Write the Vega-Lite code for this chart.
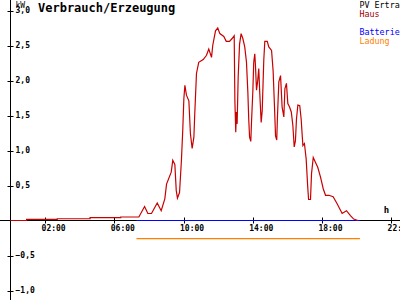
{
  "$schema": "https://vega.github.io/schema/vega-lite/v6.json",
  "width": 400,
  "height": 300,
  "autosize": "none",
  "padding": 0,
  "background": "white",
  "config": {"view": {"stroke": null}},
  "title": {
    "text": "Verbrauch/Erzeugung",
    "anchor": "start",
    "frame": "group",
    "font": "DejaVu Sans Mono",
    "fontSize": 12,
    "fontWeight": "bold",
    "color": "black",
    "baseline": "top",
    "offset": 0,
    "dx": 38,
    "dy": 15
  },
  "data": {
    "values": [
      {"h": 7.28, "v": 0, "s": "Batterie"},
      {"h": 20.2, "v": 0, "s": "Batterie"},
      {"h": 7.28, "v": -0.26, "s": "Ladung"},
      {"h": 20.2, "v": -0.26, "s": "Ladung"},
      {"h": 0, "v": 0, "s": "Haus"},
      {"h": 0.93, "v": 0, "s": "Haus"},
      {"h": 0.93, "v": 0.015, "s": "Haus"},
      {"h": 2.7, "v": 0.015, "s": "Haus"},
      {"h": 2.7, "v": 0.025, "s": "Haus"},
      {"h": 4.6, "v": 0.025, "s": "Haus"},
      {"h": 4.6, "v": 0.04, "s": "Haus"},
      {"h": 6.37, "v": 0.04, "s": "Haus"},
      {"h": 6.37, "v": 0.05, "s": "Haus"},
      {"h": 7.42, "v": 0.05, "s": "Haus"},
      {"h": 7.75, "v": 0.2, "s": "Haus"},
      {"h": 7.94, "v": 0.1, "s": "Haus"},
      {"h": 8.15, "v": 0.1, "s": "Haus"},
      {"h": 8.48, "v": 0.25, "s": "Haus"},
      {"h": 8.71, "v": 0.14, "s": "Haus"},
      {"h": 8.92, "v": 0.31, "s": "Haus"},
      {"h": 9.02, "v": 0.52, "s": "Haus"},
      {"h": 9.29, "v": 0.69, "s": "Haus"},
      {"h": 9.38, "v": 0.86, "s": "Haus"},
      {"h": 9.5, "v": 0.8, "s": "Haus"},
      {"h": 9.58, "v": 0.43, "s": "Haus"},
      {"h": 9.65, "v": 0.32, "s": "Haus"},
      {"h": 9.77, "v": 0.4, "s": "Haus"},
      {"h": 9.88, "v": 0.86, "s": "Haus"},
      {"h": 9.96, "v": 1.31, "s": "Haus"},
      {"h": 10.02, "v": 1.74, "s": "Haus"},
      {"h": 10.08, "v": 1.93, "s": "Haus"},
      {"h": 10.17, "v": 1.79, "s": "Haus"},
      {"h": 10.31, "v": 1.71, "s": "Haus"},
      {"h": 10.4, "v": 1.24, "s": "Haus"},
      {"h": 10.5, "v": 1.03, "s": "Haus"},
      {"h": 10.6, "v": 1.19, "s": "Haus"},
      {"h": 10.65, "v": 1.52, "s": "Haus"},
      {"h": 10.75, "v": 2.1, "s": "Haus"},
      {"h": 10.88, "v": 2.26, "s": "Haus"},
      {"h": 11.14, "v": 2.3, "s": "Haus"},
      {"h": 11.33, "v": 2.36, "s": "Haus"},
      {"h": 11.46, "v": 2.45, "s": "Haus"},
      {"h": 11.62, "v": 2.33, "s": "Haus"},
      {"h": 11.69, "v": 2.5, "s": "Haus"},
      {"h": 11.85, "v": 2.71, "s": "Haus"},
      {"h": 11.98, "v": 2.75, "s": "Haus"},
      {"h": 12.1, "v": 2.67, "s": "Haus"},
      {"h": 12.33, "v": 2.63, "s": "Haus"},
      {"h": 12.47, "v": 2.56, "s": "Haus"},
      {"h": 12.66, "v": 2.56, "s": "Haus"},
      {"h": 12.81, "v": 2.6, "s": "Haus"},
      {"h": 12.93, "v": 2.64, "s": "Haus"},
      {"h": 12.97, "v": 1.71, "s": "Haus"},
      {"h": 13.02, "v": 1.26, "s": "Haus"},
      {"h": 13.06, "v": 1.55, "s": "Haus"},
      {"h": 13.1, "v": 1.38, "s": "Haus"},
      {"h": 13.16, "v": 2.05, "s": "Haus"},
      {"h": 13.24, "v": 2.52, "s": "Haus"},
      {"h": 13.33, "v": 2.67, "s": "Haus"},
      {"h": 13.43, "v": 2.6, "s": "Haus"},
      {"h": 13.54, "v": 2.48, "s": "Haus"},
      {"h": 13.64, "v": 2.26, "s": "Haus"},
      {"h": 13.72, "v": 1.83, "s": "Haus"},
      {"h": 13.77, "v": 1.45, "s": "Haus"},
      {"h": 13.82, "v": 1.19, "s": "Haus"},
      {"h": 13.89, "v": 1.13, "s": "Haus"},
      {"h": 13.93, "v": 1.4, "s": "Haus"},
      {"h": 14.01, "v": 1.86, "s": "Haus"},
      {"h": 14.06, "v": 2.26, "s": "Haus"},
      {"h": 14.12, "v": 2.38, "s": "Haus"},
      {"h": 14.16, "v": 2.21, "s": "Haus"},
      {"h": 14.22, "v": 1.86, "s": "Haus"},
      {"h": 14.29, "v": 2.0, "s": "Haus"},
      {"h": 14.35, "v": 2.17, "s": "Haus"},
      {"h": 14.41, "v": 1.81, "s": "Haus"},
      {"h": 14.49, "v": 1.4, "s": "Haus"},
      {"h": 14.55, "v": 1.57, "s": "Haus"},
      {"h": 14.64, "v": 2.29, "s": "Haus"},
      {"h": 14.7, "v": 2.56, "s": "Haus"},
      {"h": 14.84, "v": 2.56, "s": "Haus"},
      {"h": 14.93, "v": 2.48, "s": "Haus"},
      {"h": 15.09, "v": 2.43, "s": "Haus"},
      {"h": 15.18, "v": 2.14, "s": "Haus"},
      {"h": 15.26, "v": 1.62, "s": "Haus"},
      {"h": 15.32, "v": 1.21, "s": "Haus"},
      {"h": 15.39, "v": 1.15, "s": "Haus"},
      {"h": 15.43, "v": 1.48, "s": "Haus"},
      {"h": 15.51, "v": 1.98, "s": "Haus"},
      {"h": 15.61, "v": 2.07, "s": "Haus"},
      {"h": 15.7, "v": 1.62, "s": "Haus"},
      {"h": 15.8, "v": 1.48, "s": "Haus"},
      {"h": 15.86, "v": 1.88, "s": "Haus"},
      {"h": 15.95, "v": 1.96, "s": "Haus"},
      {"h": 16.03, "v": 1.67, "s": "Haus"},
      {"h": 16.13, "v": 1.62, "s": "Haus"},
      {"h": 16.23, "v": 1.55, "s": "Haus"},
      {"h": 16.32, "v": 1.36, "s": "Haus"},
      {"h": 16.4, "v": 1.05, "s": "Haus"},
      {"h": 16.47, "v": 1.14, "s": "Haus"},
      {"h": 16.53, "v": 1.45, "s": "Haus"},
      {"h": 16.61, "v": 1.65, "s": "Haus"},
      {"h": 16.72, "v": 1.64, "s": "Haus"},
      {"h": 16.8, "v": 1.45, "s": "Haus"},
      {"h": 16.9, "v": 1.07, "s": "Haus"},
      {"h": 16.99, "v": 1.1, "s": "Haus"},
      {"h": 17.09, "v": 0.88, "s": "Haus"},
      {"h": 17.18, "v": 0.48, "s": "Haus"},
      {"h": 17.23, "v": 0.3, "s": "Haus"},
      {"h": 17.34, "v": 0.3, "s": "Haus"},
      {"h": 17.4, "v": 0.67, "s": "Haus"},
      {"h": 17.5, "v": 0.9, "s": "Haus"},
      {"h": 17.63, "v": 0.83, "s": "Haus"},
      {"h": 17.76, "v": 0.76, "s": "Haus"},
      {"h": 17.92, "v": 0.62, "s": "Haus"},
      {"h": 18.08, "v": 0.45, "s": "Haus"},
      {"h": 18.21, "v": 0.36, "s": "Haus"},
      {"h": 18.4, "v": 0.36, "s": "Haus"},
      {"h": 18.65, "v": 0.34, "s": "Haus"},
      {"h": 18.88, "v": 0.24, "s": "Haus"},
      {"h": 19.17, "v": 0.1, "s": "Haus"},
      {"h": 19.42, "v": 0.14, "s": "Haus"},
      {"h": 19.65, "v": 0.07, "s": "Haus"},
      {"h": 19.84, "v": 0.02, "s": "Haus"},
      {"h": 20.08, "v": 0, "s": "Haus"}
    ]
  },
  "layer": [
    {
      "mark": {"type": "rule", "color": "black", "strokeWidth": 1},
      "encoding": {"x": {"datum": 0, "type": "quantitative", "scale": {"domain": [-0.607, 22.514], "nice": false, "zero": false}}}
    },
    {
      "mark": {"type": "rule", "color": "black", "strokeWidth": 1},
      "encoding": {"y": {"datum": 0, "type": "quantitative", "scale": {"domain": [-1.1357, 3.15], "nice": false, "zero": false}}}
    },
    {
      "mark": {"type": "line", "strokeWidth": 1.2, "interpolate": "linear"},
      "encoding": {
        "x": {
          "field": "h",
          "type": "quantitative",
          "scale": {"domain": [-0.607, 22.514], "nice": false, "zero": false},
          "axis": {
            "orient": "bottom",
            "offset": -83,
            "domain": false,
            "grid": false,
            "values": [2, 4, 6, 8, 10, 12, 14, 16, 18, 20, 22],
            "tickSize": 6,
            "tickColor": "black",
            "labelExpr": "(datum.value < 10 ? '0' : '') + datum.value + ':00'",
            "labelFont": "DejaVu Sans Mono",
            "labelFontSize": 8,
            "labelFontWeight": "bold",
            "labelColor": "black",
            "labelAlign": "left",
            "labelBaseline": "top",
            "labelPadding": 1,
            "labelOffset": -4,
            "labelOverlap": false,
            "labelFlush": false,
            "title": "h",
            "titleFont": "DejaVu Sans Mono",
            "titleFontSize": 9,
            "titleFontWeight": "bold",
            "titleColor": "black",
            "titleX": 386,
            "titleY": -3,
            "titleAlign": "center",
            "titleBaseline": "bottom"
          }
        },
        "y": {
          "field": "v",
          "type": "quantitative",
          "scale": {"domain": [-1.1357, 3.15], "nice": false, "zero": false},
          "axis": {
            "orient": "left",
            "offset": -13,
            "domain": false,
            "grid": false,
            "values": [-1, -0.5, 0.5, 1, 1.5, 2, 2.5, 3],
            "tickSize": 6,
            "tickColor": "black",
            "labelExpr": "replace(format(datum.value, '.1f'), '.', ',')",
            "labelFont": "DejaVu Sans Mono",
            "labelFontSize": 8,
            "labelFontWeight": "bold",
            "labelColor": "black",
            "labelAlign": "left",
            "labelBaseline": "middle",
            "labelPadding": -8,
            "labelOverlap": false,
            "labelFlush": false,
            "title": "kW",
            "titleFont": "DejaVu Sans Mono",
            "titleFontSize": 8,
            "titleFontWeight": "normal",
            "titleColor": "black",
            "titleAngle": 0,
            "titleX": 2,
            "titleY": 1,
            "titleAlign": "left",
            "titleBaseline": "top"
          }
        },
        "color": {
          "field": "s",
          "type": "nominal",
          "scale": {
            "domain": ["PV Ertrag", "Haus", " ", "Batterie", "Ladung"],
            "range": ["#000000", "#c80000", "#ffffff", "#0000ff", "#ff8000"]
          },
          "legend": {
            "orient": "none",
            "legendX": 351,
            "legendY": 1,
            "title": null,
            "padding": 0,
            "symbolSize": 0,
            "symbolOpacity": 0,
            "symbolStrokeWidth": 0,
            "labelOffset": 0,
            "rowPadding": 0,
            "labelFont": "DejaVu Sans Mono",
            "labelFontSize": 8.4,
            "labelLimit": 200,
            "encode": {"labels": {"update": {"fill": {"signal": "datum.value === 'Haus' ? '#a00000' : scale('color', datum.value)"}}}}
          }
        },
        "order": {"value": null}
      }
    }
  ]
}
